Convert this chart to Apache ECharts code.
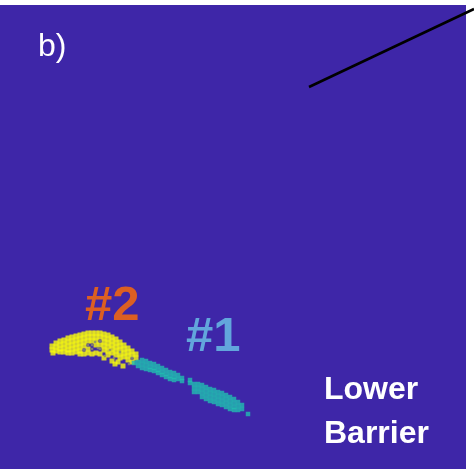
<!DOCTYPE html>
<html>
<head>
<meta charset="utf-8">
<script src="https://cdn.jsdelivr.net/npm/echarts@6/dist/echarts.min.js"></script>
<style>html,body{margin:0;padding:0;background:#fff}#c{width:474px;height:469px}</style>
</head>
<body>
<div id="c"></div>
<script>
// Cluster #2 (yellow) points, image-like coordinates
const yellowPts = [
[52,346],[52,350],[53,353],
[56,343],[56,347],[56,351],
[60,341],[60,345],[60,349],[60,352],
[64,340],[64,344],[64,348],[64,352],
[68,338],[68,342],[68,346],[68,350],[68,353],
[72,337],[72,341],[72,345],[72,349],[72,353],
[76,336],[76,340],[76,344],[76,348],[76,352],
[80,335],[80,339],[80,343],[80,347],[80,351],[80,354],
[84,334],[84,338],[84,342],[84,346],[84,354],
[88,333],[88,337],[88,341],[88,349],[88,353],
[92,333],[92,337],[92,341],[92,354],
[96,333],[96,337],[96,341],[96,345],[96,353],
[100,333],[100,337],[100,345],[100,354],
[104,334],[104,338],[104,342],[104,346],[104,350],
[108,335],[108,339],[108,343],[108,347],[108,351],[108,355],
[112,337],[112,341],[112,345],[112,349],[112,353],
[116,339],[116,343],[116,347],[116,351],[116,355],
[120,342],[120,346],[120,350],[120,354],[120,358],
[124,345],[124,349],[124,353],[124,357],
[128,348],[128,352],[128,356],[128,360],
[132,351],[132,355],[132,362],
[136,354],[136,358],
[112,361],[115,364],[104,358],[123,366],[118,362]
];
// Mixed-colour specks inside cluster #2
const mixPts = [
[95,342],[100,341],[88,345],[110,350],[105,356],[84,350],[120,352],[92,349],[98,348],[92,345],[100,349],[114,358],[129,364],[132,358]
];
// Cluster #1 (cyan) points
const cyanPts = [
[134,363],[138,362],[138,366],[142,360],[142,364],[142,368],
[146,361],[146,365],[146,369],[150,363],[150,367],[150,370],
[154,364],[154,368],[154,371],[158,366],[158,370],[158,373],
[162,368],[162,372],[162,375],[166,370],[166,374],[166,377],
[170,372],[170,376],[170,379],[174,373],[174,377],[174,380],
[178,375],[178,379],[182,378],[182,381],
[190,380],[190,383],
[194,384],[194,388],[194,392],
[198,384],[198,388],[198,392],
[202,385],[202,389],[202,393],[202,397],
[206,387],[206,391],[206,395],[206,399],
[210,389],[210,393],[210,397],[210,401],
[214,390],[214,394],[214,398],[214,402],
[218,392],[218,396],[218,400],[218,404],
[222,393],[222,397],[222,401],[222,405],
[226,395],[226,399],[226,403],[226,407],
[230,397],[230,401],[230,405],[230,409],
[234,399],[234,403],[234,407],[234,410],
[238,402],[238,406],[238,410],
[242,405],[242,409],
[248,414]
];
// Black guide line
const linePts = [[309,87],[474,9]];

const chart = echarts.init(document.getElementById('c'), null, {renderer:'canvas'});
const FF = "'Liberation Sans', Arial, sans-serif";
chart.setOption({
  animation:false,
  backgroundColor:'#ffffff',
  grid:{left:0, top:5, width:474, height:464, show:false},
  xAxis:{type:'value', min:0, max:474, show:false},
  yAxis:{type:'value', min:5, max:469, inverse:true, show:false},
  series:[
    {type:'scatter', data:yellowPts, symbol:'rect', symbolSize:5, itemStyle:{color:'#f9fb0e'}, silent:true},
    {type:'scatter', data:mixPts, symbol:'rect', symbolSize:2.5, itemStyle:{color:'#8a8c6c'}, silent:true},
    {type:'scatter', data:cyanPts, symbol:'rect', symbolSize:4.5, itemStyle:{color:'#22bdb0'}, silent:true},
    {type:'line', data:linePts, clip:false, symbol:'none', lineStyle:{color:'#000', width:2.6}, silent:true}
  ],
  graphic:[
    {type:'rect', z:-10, silent:true, shape:{x:0, y:5, width:466, height:464}, style:{fill:'#3e26a8'}},
    {type:'text', z:100, x:38, y:47, style:{text:'b)', fill:'#fff', font:"32px "+FF, verticalAlign:'middle'}},
    {type:'text', z:100, x:85, y:306, style:{text:'#2', fill:'#dc5f22', font:"bold 49px "+FF, verticalAlign:'middle'}},
    {type:'text', z:100, x:186, y:337, style:{text:'#1', fill:'#62a6dc', font:"bold 49px "+FF, verticalAlign:'middle'}},
    {type:'text', z:100, x:324, y:390, style:{text:'Lower', fill:'#fff', font:"bold 32px "+FF, verticalAlign:'middle'}},
    {type:'text', z:100, x:324, y:434, style:{text:'Barrier', fill:'#fff', font:"bold 32px "+FF, verticalAlign:'middle'}}
  ]
});
</script>
</body>
</html>
